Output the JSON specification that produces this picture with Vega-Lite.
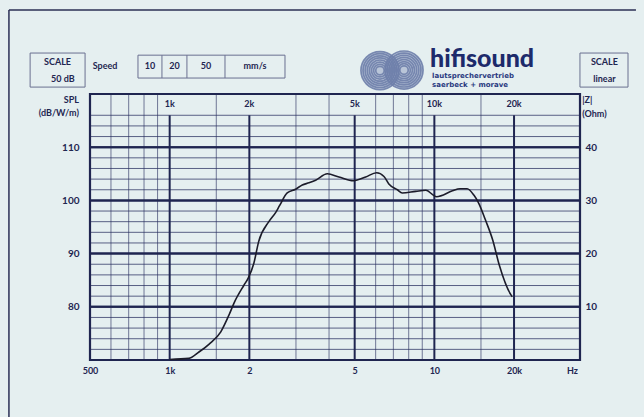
{
  "$schema": "https://vega.github.io/schema/vega-lite/v6.json",
  "width": 490,
  "height": 266,
  "autosize": "none",
  "padding": {"left": 90, "top": 94, "right": 64, "bottom": 57},
  "background": "#e5eff0",
  "config": {"view": {"stroke": null}, "font": "Lato", "axis": {"labelFont": "Lato", "labelFontWeight": "bold", "labelColor": "#1f2650", "labelFontSize": 10}},
  "resolve": {"axis": {"y": "independent", "x": "independent"}},
  "datasets": {
    "response": [
      {"f": 1000, "spl": 70.1}, {"f": 1180, "spl": 70.3}, {"f": 1290, "spl": 71.5}, {"f": 1410, "spl": 73.0},
      {"f": 1560, "spl": 75.3}, {"f": 1680, "spl": 78.6}, {"f": 1750, "spl": 80.7}, {"f": 1910, "spl": 84.1},
      {"f": 1980, "spl": 85.4}, {"f": 2080, "spl": 88.2}, {"f": 2170, "spl": 92.3}, {"f": 2370, "spl": 96.0},
      {"f": 2520, "spl": 97.8}, {"f": 2600, "spl": 99.0}, {"f": 2780, "spl": 101.4}, {"f": 2990, "spl": 102.1},
      {"f": 3170, "spl": 102.9}, {"f": 3360, "spl": 103.3}, {"f": 3560, "spl": 103.8}, {"f": 3940, "spl": 105.0},
      {"f": 4360, "spl": 104.4}, {"f": 4950, "spl": 103.7}, {"f": 5500, "spl": 104.4}, {"f": 6050, "spl": 105.2},
      {"f": 6450, "spl": 104.5}, {"f": 6730, "spl": 103.1}, {"f": 7250, "spl": 102.0}, {"f": 7560, "spl": 101.4},
      {"f": 8500, "spl": 101.7}, {"f": 9280, "spl": 101.9}, {"f": 10200, "spl": 100.7}, {"f": 11700, "spl": 101.8},
      {"f": 12500, "spl": 102.2}, {"f": 13300, "spl": 102.2}, {"f": 14100, "spl": 101.0}, {"f": 14700, "spl": 99.5},
      {"f": 15600, "spl": 96.3}, {"f": 16600, "spl": 92.6}, {"f": 17600, "spl": 87.8}, {"f": 19500, "spl": 82.2},
      {"f": 19700, "spl": 81.9}
    ],
    "hgrid": [
      {"db": 72, "kind": "minor"}, {"db": 74, "kind": "minor"}, {"db": 76, "kind": "minor"}, {"db": 78, "kind": "minor"},
      {"db": 80, "kind": "major"}, {"db": 82, "kind": "minor"}, {"db": 84, "kind": "minor"}, {"db": 86, "kind": "minor"},
      {"db": 88, "kind": "minor"}, {"db": 90, "kind": "major"}, {"db": 92, "kind": "minor"}, {"db": 94, "kind": "minor"},
      {"db": 96, "kind": "minor"}, {"db": 98, "kind": "minor"}, {"db": 100, "kind": "major"}, {"db": 102, "kind": "minor"},
      {"db": 104, "kind": "minor"}, {"db": 106, "kind": "minor"}, {"db": 108, "kind": "minor"}, {"db": 110, "kind": "major"},
      {"db": 112, "kind": "minor"}, {"db": 114, "kind": "minor"}, {"db": 116, "kind": "minor"}
    ],
    "vminor": [
      {"f": 600}, {"f": 700}, {"f": 800}, {"f": 900}, {"f": 1500}, {"f": 3000}, {"f": 4000},
      {"f": 6000}, {"f": 7000}, {"f": 8000}, {"f": 9000}, {"f": 15000}
    ],
    "vmajor": [
      {"f": 1000, "lo": 70, "hi": 116}, {"f": 2000, "lo": 70, "hi": 116}, {"f": 5000, "lo": 70, "hi": 116},
      {"f": 10000, "lo": 70, "hi": 116}, {"f": 20000, "lo": 70, "hi": 116}
    ],
    "toplabels": [
      {"f": 1000, "db": 118.1, "label": "1k"}, {"f": 2000, "db": 118.1, "label": "2k"}, {"f": 5000, "db": 118.1, "label": "5k"},
      {"f": 10000, "db": 118.1, "label": "10k"}, {"f": 20000, "db": 118.1, "label": "20k"}
    ],
    "plotframe": [{"f1": 500, "f2": 35500, "d1": 70, "d2": 120}],
    "boxes": [
      {"f1": 297, "f2": 479, "d1": 121.3, "d2": 127.7},
      {"f1": 759, "f2": 2727, "d1": 123.0, "d2": 127.3},
      {"f1": 35490, "f2": 53900, "d1": 121.3, "d2": 127.7}
    ],
    "dividers": [
      {"f": 935, "d1": 123.0, "d2": 127.3}, {"f": 1162, "d1": 123.0, "d2": 127.3}, {"f": 1618, "d1": 123.0, "d2": 127.3}
    ],
    "centertext": [
      {"f": 377, "db": 126.0, "label": "SCALE"},
      {"f": 395, "db": 122.8, "label": "50 dB"},
      {"f": 570, "db": 125.2, "label": "Speed"},
      {"f": 842, "db": 125.2, "label": "10"},
      {"f": 1043, "db": 125.2, "label": "20"},
      {"f": 1372, "db": 125.2, "label": "50"},
      {"f": 2101, "db": 125.2, "label": "mm/s"},
      {"f": 43900, "db": 126.0, "label": "SCALE"},
      {"f": 43900, "db": 122.8, "label": "linear"}
    ],
    "lefttitle": [
      {"f": 454, "db": 118.9, "label": "SPL"},
      {"f": 454, "db": 116.4, "label": "(dB/W/m)"}
    ],
    "righttitle": [
      {"f": 36200, "db": 118.8, "label": "|Z|"},
      {"f": 36200, "db": 116.3, "label": "(Ohm)"}
    ],
    "brand": [
      {"f": 9626, "db": 125.0, "label": "hifisound"}
    ],
    "brandsub": [
      {"f": 9800, "db": 123.4, "label": "lautsprechervertrieb"},
      {"f": 9800, "db": 121.6, "label": "saerbeck  +  morave"}
    ],
    "logodisk": [
      {"f": 6230, "db": 124.4}, {"f": 7680, "db": 124.5}
    ],
    "logo": [
      {"f": 6230, "db": 124.4, "ring": 9}, {"f": 7680, "db": 124.5, "ring": 9},
      {"f": 6230, "db": 124.4, "ring": 8}, {"f": 7680, "db": 124.5, "ring": 8},
      {"f": 6230, "db": 124.4, "ring": 7}, {"f": 7680, "db": 124.5, "ring": 7},
      {"f": 6230, "db": 124.4, "ring": 6}, {"f": 7680, "db": 124.5, "ring": 6},
      {"f": 6230, "db": 124.4, "ring": 5}, {"f": 7680, "db": 124.5, "ring": 5},
      {"f": 6230, "db": 124.4, "ring": 4}, {"f": 7680, "db": 124.5, "ring": 4},
      {"f": 6230, "db": 124.4, "ring": 3}, {"f": 7680, "db": 124.5, "ring": 3},
      {"f": 6230, "db": 124.4, "ring": 2}, {"f": 7680, "db": 124.5, "ring": 2}
    ],
    "frameh": [{"f1": 247, "f2": 57760, "db": 135.8}],
    "framev": [{"f": 247, "d1": 58, "d2": 135.8}]
  },
  "encoding": {
    "x": {"field": "f", "type": "quantitative", "scale": {"type": "log", "domain": [500, 35500], "nice": false}, "axis": null},
    "y": {"field": "db", "type": "quantitative", "scale": {"domain": [70, 120], "nice": false, "zero": false}, "axis": null}
  },
  "layer": [
    {
      "data": {"name": "frameh"},
      "mark": {"type": "rule", "stroke": "#2a2f55", "strokeWidth": 1.5},
      "encoding": {"x": {"field": "f1", "type": "quantitative"}, "x2": {"field": "f2"}}
    },
    {
      "data": {"name": "framev"},
      "mark": {"type": "rule", "stroke": "#2a2f55", "strokeWidth": 1.5},
      "encoding": {"y": {"field": "d1", "type": "quantitative"}, "y2": {"field": "d2"}}
    },
    {
      "data": {"name": "hgrid"},
      "transform": [{"filter": "datum.kind == 'minor'"}],
      "mark": {"type": "rule", "stroke": "#2a3060", "strokeWidth": 1, "opacity": 0.75},
      "encoding": {"x": null, "y": {"field": "db", "type": "quantitative"}}
    },
    {
      "data": {"name": "vminor"},
      "mark": {"type": "rule", "stroke": "#2a3060", "strokeWidth": 0.9, "opacity": 0.7},
      "encoding": {"y": null, "x": {"field": "f", "type": "quantitative"}}
    },
    {
      "data": {"name": "hgrid"},
      "transform": [{"filter": "datum.kind == 'major'"}],
      "mark": {"type": "rule", "stroke": "#1f2550", "strokeWidth": 2},
      "encoding": {
        "x": null,
        "y": {"field": "db", "type": "quantitative", "axis": {"orient": "left", "values": [80, 90, 100, 110], "grid": false, "domain": false, "ticks": false, "title": null, "labelPadding": 11}}
      }
    },
    {
      "data": {"name": "hgrid"},
      "transform": [{"filter": "datum.kind == 'major'"}],
      "mark": {"type": "rule", "stroke": "#1f2550", "strokeWidth": 2},
      "encoding": {
        "x": null,
        "y": {"field": "db", "type": "quantitative", "axis": {"orient": "right", "values": [80, 90, 100, 110], "labelExpr": "datum.value - 70", "grid": false, "domain": false, "ticks": false, "title": null, "labelPadding": 5}}
      }
    },
    {
      "data": {"name": "vmajor"},
      "mark": {"type": "rule", "stroke": "#1f2550", "strokeWidth": 2},
      "encoding": {
        "x": {"field": "f", "type": "quantitative", "axis": {"orient": "bottom", "values": [500, 1000, 2000, 5000, 10000, 20000, 33100], "labelExpr": "datum.value == 500 ? '500' : datum.value == 1000 ? '1k' : datum.value == 2000 ? '2' : datum.value == 5000 ? '5' : datum.value == 10000 ? '10' : datum.value == 20000 ? '20k' : 'Hz'", "grid": false, "domain": false, "ticks": false, "title": null, "labelPadding": 6, "labelFontSize": 9, "labelFlush": false, "labelOverlap": false}},
        "y": {"field": "lo", "type": "quantitative"},
        "y2": {"field": "hi"}
      }
    },
    {
      "data": {"name": "plotframe"},
      "mark": {"type": "rect", "fill": null, "stroke": "#1f2550", "strokeWidth": 2.2},
      "encoding": {"x": {"field": "f1", "type": "quantitative"}, "x2": {"field": "f2"}, "y": {"field": "d1", "type": "quantitative"}, "y2": {"field": "d2"}}
    },
    {
      "data": {"name": "response"},
      "mark": {"type": "line", "stroke": "#1c1c2a", "strokeWidth": 1.6, "interpolate": "monotone"},
      "encoding": {"y": {"field": "spl", "type": "quantitative"}}
    },
    {
      "data": {"name": "toplabels"},
      "mark": {"type": "text", "font": "Lato", "fontWeight": "bold", "fontSize": 9, "fill": "#1f2650", "baseline": "middle"},
      "encoding": {"text": {"field": "label"}}
    },
    {
      "data": {"name": "boxes"},
      "mark": {"type": "rect", "fill": null, "stroke": "#6a7090", "strokeWidth": 1},
      "encoding": {"x": {"field": "f1", "type": "quantitative"}, "x2": {"field": "f2"}, "y": {"field": "d1", "type": "quantitative"}, "y2": {"field": "d2"}}
    },
    {
      "data": {"name": "dividers"},
      "mark": {"type": "rule", "stroke": "#6a7090", "strokeWidth": 1},
      "encoding": {"y": {"field": "d1", "type": "quantitative"}, "y2": {"field": "d2"}}
    },
    {
      "data": {"name": "centertext"},
      "mark": {"type": "text", "font": "Lato", "fontWeight": "bold", "fontSize": 9, "fill": "#1f2650", "baseline": "middle"},
      "encoding": {"text": {"field": "label"}}
    },
    {
      "data": {"name": "lefttitle"},
      "mark": {"type": "text", "font": "Lato", "fontWeight": "bold", "fontSize": 9, "fill": "#1f2650", "baseline": "middle", "align": "right"},
      "encoding": {"text": {"field": "label"}}
    },
    {
      "data": {"name": "righttitle"},
      "mark": {"type": "text", "font": "Lato", "fontWeight": "bold", "fontSize": 9, "fill": "#1f2650", "baseline": "middle", "align": "left"},
      "encoding": {"text": {"field": "label"}}
    },
    {
      "data": {"name": "logodisk"},
      "mark": {"type": "point", "shape": "circle", "filled": true, "fill": "#95a3c4", "opacity": 0.55, "size": 1450}
    },
    {
      "data": {"name": "logo"},
      "mark": {"type": "point", "shape": "circle", "filled": false, "stroke": "#6f80ab", "strokeWidth": 1.7, "opacity": 0.9},
      "encoding": {"size": {"field": "ring", "type": "quantitative", "scale": {"domain": [0, 9], "range": [0, 1450], "type": "pow", "exponent": 2}, "legend": null}}
    },
    {
      "data": {"name": "brand"},
      "mark": {"type": "text", "font": "Lato", "fontWeight": 900, "fontSize": 25, "fill": "#1d2a6b", "baseline": "alphabetic", "align": "left"},
      "encoding": {"text": {"field": "label"}}
    },
    {
      "data": {"name": "brandsub"},
      "mark": {"type": "text", "font": "DejaVu Sans", "fontWeight": "bold", "fontSize": 7, "fill": "#2a3a80", "baseline": "middle", "align": "left"},
      "encoding": {"text": {"field": "label"}}
    }
  ]
}
